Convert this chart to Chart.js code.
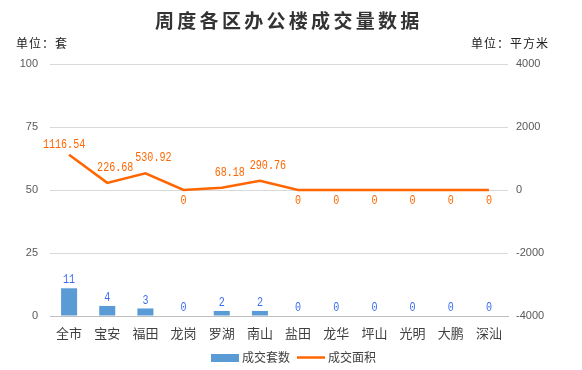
<!DOCTYPE html>
<html>
<head>
<meta charset="utf-8">
<script src="https://cdn.jsdelivr.net/npm/chart.js@4.4.1/dist/chart.umd.min.js"></script>
<style>
  html, body { margin: 0; padding: 0; background: #fff; }
  #wrap { width: 582px; height: 370px; }
</style>
</head>
<body>
<div id="wrap"><canvas id="c" width="582" height="370"></canvas></div>
<script>
/* 周度各区办公楼成交量数据 */

const categories = ["全市", "宝安", "福田", "龙岗", "罗湖", "南山", "盐田", "龙华", "坪山", "光明", "大鹏", "深汕"];
const units = [11, 4, 3, 0, 2, 2, 0, 0, 0, 0, 0, 0];
const areas = [1116.54, 226.68, 530.92, 0, 68.18, 290.76, 0, 0, 0, 0, 0, 0];
const leftTicks = [0, 25, 50, 75, 100];
const rightTicks = [-4000, -2000, 0, 2000, 4000];

const TITLE = "周度各区办公楼成交量数据";
const BLUE = "#5B9BD5";
const ORANGE = "#FF6600";
const CJK = "'Noto Sans CJK SC', sans-serif";

function spaced(ctx, text, x, y, step) {
  [...text].forEach((ch, i) => ctx.fillText(ch, x + i * step, y));
}

// narrow digits, like the original bitmap font
function narrowText(ctx, text, x, y) {
  ctx.save();
  ctx.translate(x, y);
  ctx.scale(0.84, 1);
  ctx.fillText(text, 0, 0);
  ctx.restore();
}

const decor = {
  id: "decor",
  afterDraw(chart) {
    const ctx = chart.ctx;
    ctx.save();
    // title
    ctx.fillStyle = "#333";
    ctx.font = `bold 19px ${CJK}`;
    ctx.textAlign = "left";
    ctx.textBaseline = "middle";
    spaced(ctx, TITLE, 155, 21, 22.3);
    // units
    ctx.font = `12px ${CJK}`;
    ctx.fillStyle = "#222";
    spaced(ctx, "单位：套", 16, 43, 13);
    spaced(ctx, "单位：平方米", 471, 43, 13);

    // data labels
    ctx.font = "12px 'Liberation Mono', monospace";
    ctx.textAlign = "center";
    const bars = chart.getDatasetMeta(0).data;
    ctx.fillStyle = "#3B6CF0";
    ctx.textBaseline = "middle";
    bars.forEach((b, i) => narrowText(ctx, String(units[i]), b.x, b.y - 8));
    const pts = chart.getDatasetMeta(1).data;
    ctx.fillStyle = ORANGE;
    pts.forEach((p, i) => {
      if (areas[i] > 0) {
        const dx = i === 0 ? -5 : 8;
        const dy = i === 0 ? -10 : -15;
        narrowText(ctx, areas[i].toFixed(2), p.x + dx, p.y + dy);
      } else {
        narrowText(ctx, "0", p.x, p.y + 11);
      }
    });

    // legend
    ctx.fillStyle = BLUE;
    ctx.fillRect(211, 354, 28, 8);
    ctx.strokeStyle = ORANGE;
    ctx.lineWidth = 2.5;
    ctx.beginPath();
    ctx.moveTo(297, 357.5);
    ctx.lineTo(325, 357.5);
    ctx.stroke();
    ctx.fillStyle = "#404040";
    ctx.font = `12px ${CJK}`;
    ctx.textAlign = "left";
    ctx.textBaseline = "middle";
    ctx.fillText("成交套数", 242, 357);
    ctx.fillText("成交面积", 328, 357);
    ctx.restore();
  },
};

new Chart(document.getElementById("c"), {
  data: {
    labels: categories,
    datasets: [
      {
        type: "bar",
        label: "成交套数",
        data: units,
        yAxisID: "y",
        backgroundColor: BLUE,
        barPercentage: 0.7,
        categoryPercentage: 0.6,
        order: 2,
      },
      {
        type: "line",
        label: "成交面积",
        data: areas,
        yAxisID: "y1",
        borderColor: ORANGE,
        borderWidth: 2.5,
        pointRadius: 0,
        tension: 0,
        order: 1,
      },
    ],
  },
  options: {
    responsive: false,
    animation: false,
    layout: { padding: { top: 64, bottom: 0, left: 0, right: 0 } },
    plugins: { legend: { display: false }, title: { display: false }, tooltip: { enabled: false } },
    scales: {
      x: {
        grid: { display: false, drawTicks: false },
        border: { color: "#BFBFBF", width: 1 },
        ticks: { color: "#404040", font: { size: 13, family: CJK }, padding: 9, maxRotation: 0, autoSkip: false },
        afterFit: (s) => { s.height = 54; },
      },
      y: {
        position: "left",
        min: 0,
        max: 100,
        afterBuildTicks: (s) => { s.ticks = leftTicks.map((v) => ({ value: v })); },
        grid: { color: "#D9D9D9", drawTicks: false },
        border: { display: false },
        ticks: { color: "#595959", font: { size: 11, family: "'Liberation Sans', sans-serif" }, padding: 12, callback: (v) => String(v) },
        afterFit: (s) => { s.width = 50; },
      },
      y1: {
        position: "right",
        min: -4000,
        max: 4000,
        afterBuildTicks: (s) => { s.ticks = rightTicks.map((v) => ({ value: v })); },
        grid: { display: false, drawTicks: false },
        border: { display: false },
        ticks: { color: "#595959", font: { size: 11, family: "'Liberation Sans', sans-serif" }, padding: 8, callback: (v) => String(v) },
        afterFit: (s) => { s.width = 74; },
      },
    },
  },
  plugins: [decor],
});
</script>
</body>
</html>
